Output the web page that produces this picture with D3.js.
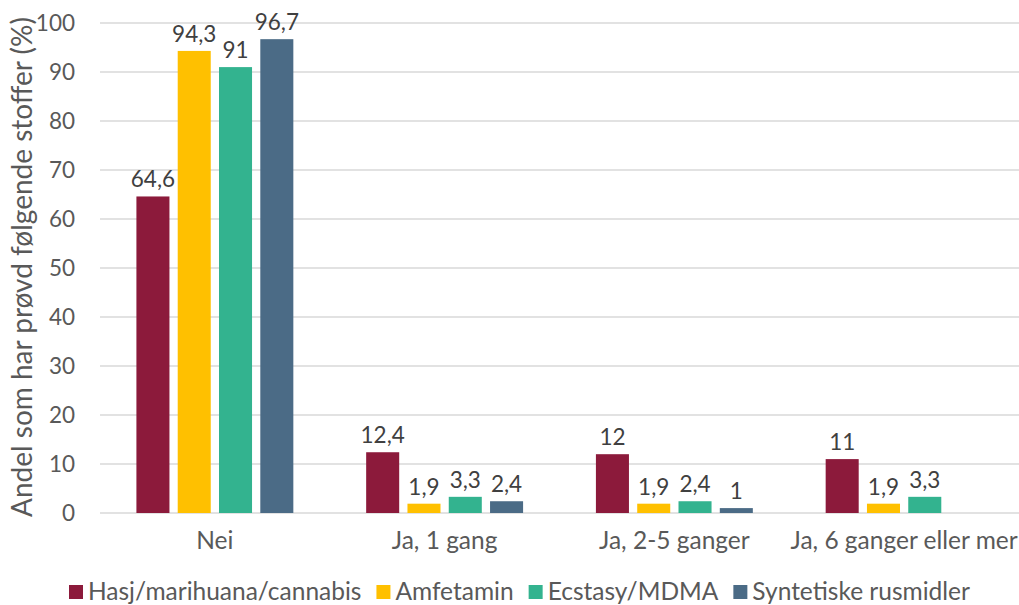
<!DOCTYPE html>
<html>
<head>
<meta charset="utf-8">
<script src="https://cdn.jsdelivr.net/npm/d3@7"></script>
<style>
  html, body { margin: 0; padding: 0; background: #fff; }
  svg text { font-family: Lato, "Open Sans", sans-serif; }
</style>
</head>
<body>
<svg id="chart" width="1019" height="605"></svg>
<script>
// categories and series values
const categories = ["Nei", "Ja, 1 gang", "Ja, 2-5 ganger", "Ja, 6 ganger eller mer"];
const seriesNames = ["Hasj/marihuana/cannabis", "Amfetamin", "Ecstasy/MDMA", "Syntetiske rusmidler"];
const hasj = [64.6, 12.4, 12, 11];
const amfetamin = [94.3, 1.9, 1.9, 1.9];
const ecstasy = [91, 3.3, 2.4, 3.3];
const syntetiske = [96.7, 2.4, 1, null];
const yTicks = [0, 10, 20, 30, 40, 50, 60, 70, 80, 90, 100];
const colors = ["#8c1a3b", "#ffc000", "#33b38f", "#4b6b86"];

const seriesValues = [hasj, amfetamin, ecstasy, syntetiske];

const svg = d3.select("#chart");
const margin = { top: 23, right: 0, bottom: 92, left: 100 };
const width = 1019 - margin.left - margin.right;
const height = 605 - margin.top - margin.bottom;

const g = svg.append("g").attr("transform", `translate(${margin.left},${margin.top})`);

const x0 = d3.scaleBand().domain(categories).range([0, width])
    .paddingInner(0.317).paddingOuter(0.1585);
const x1 = d3.scaleBand().domain(seriesNames).range([0, x0.bandwidth()]).paddingInner(0.2);
const y = d3.scaleLinear().domain([0, 100]).range([height, 0]);

// gridlines
g.append("g")
    .selectAll("line")
    .data(yTicks)
    .enter().append("line")
    .attr("x1", 0).attr("x2", width)
    .attr("y1", d => y(d)).attr("y2", d => y(d))
    .attr("stroke", "#d9d9d9")
    .attr("stroke-width", 1.5);

// y tick labels
const yAxis = g.append("g")
    .call(d3.axisLeft(y).tickValues(yTicks).tickSize(0).tickPadding(25));
yAxis.select(".domain").remove();
yAxis.selectAll("text")
    .attr("font-size", 22.5)
    .attr("fill", "#595959")
    .style("font-family", "Lato, sans-serif");

// x category labels
const xAxis = g.append("g")
    .attr("transform", `translate(0,${height})`)
    .call(d3.axisBottom(x0).tickSize(0).tickPadding(19));
xAxis.select(".domain").remove();
xAxis.selectAll("text")
    .attr("font-size", 24.5)
    .attr("fill", "#595959")
    .style("font-family", "Lato, sans-serif");

// bars
const rows = [];
categories.forEach((c, i) => {
    seriesNames.forEach((s, j) => {
        const v = seriesValues[j][i];
        if (v != null) rows.push({ cat: c, series: s, value: v, color: colors[j] });
    });
});

g.append("g")
    .selectAll("rect")
    .data(rows)
    .enter().append("rect")
    .attr("x", d => x0(d.cat) + x1(d.series))
    .attr("y", d => y(d.value))
    .attr("width", x1.bandwidth())
    .attr("height", d => y(0) - y(d.value))
    .attr("fill", d => d.color);

// value labels
g.append("g")
    .selectAll("text")
    .data(rows)
    .enter().append("text")
    .attr("x", d => x0(d.cat) + x1(d.series) + x1.bandwidth() / 2)
    .attr("y", d => y(d.value) - 9)
    .attr("text-anchor", "middle")
    .attr("font-size", 22.5)
    .attr("fill", "#404040")
    .text(d => String(d.value).replace(".", ","));

// y axis title
svg.append("text")
    .attr("transform", `translate(32,${margin.top + height / 2 - 1}) rotate(-90)`)
    .attr("text-anchor", "middle")
    .attr("font-size", 28)
    .attr("fill", "#595959")
    .text("Andel som har prøvd følgende stoffer (%)");

// legend
const legend = svg.append("g").attr("transform", "translate(69,592)");
let lx = 0;
seriesNames.forEach((s, j) => {
    const item = legend.append("g").attr("transform", `translate(${lx},0)`);
    item.append("rect")
        .attr("x", 0).attr("y", -7)
        .attr("width", 14).attr("height", 14)
        .attr("fill", colors[j]);
    const t = item.append("text")
        .attr("x", 19).attr("y", 8)
        .attr("font-size", 24.5)
        .attr("fill", "#595959")
        .text(s);
    lx += 19 + t.node().getComputedTextLength() + 15;
});
</script>
</body>
</html>
